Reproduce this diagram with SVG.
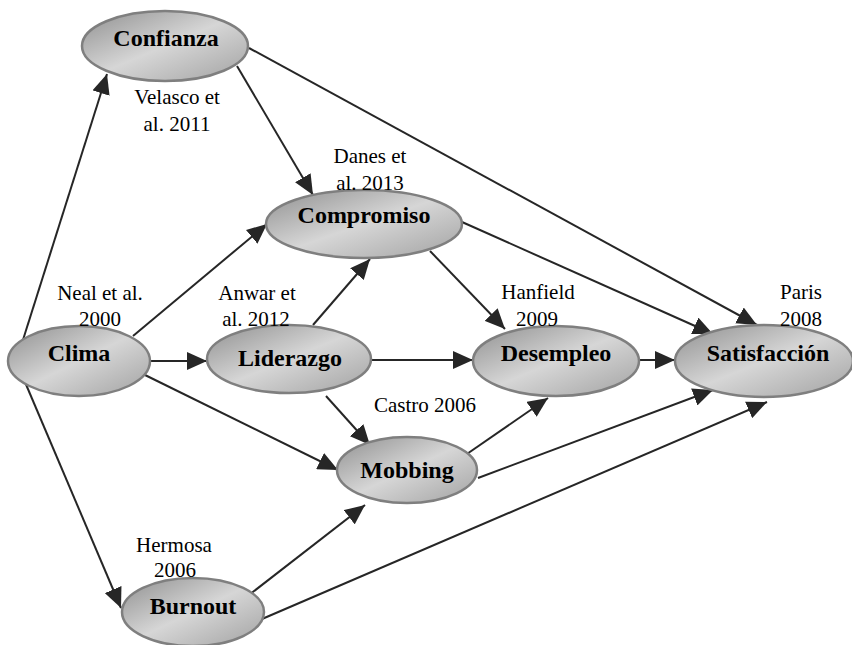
<svg xmlns="http://www.w3.org/2000/svg" width="852" height="645" viewBox="0 0 852 645">
<defs>
<linearGradient id="g" x1="0" y1="0" x2="1" y2="1">
<stop offset="0" stop-color="#8f8f8f"/>
<stop offset="0.5" stop-color="#d6d6d6"/>
<stop offset="1" stop-color="#a2a2a2"/>
</linearGradient>
<marker id="ah" viewBox="0 0 20 18" refX="20" refY="9" markerWidth="20" markerHeight="18" markerUnits="userSpaceOnUse" orient="auto">
<path d="M0,0 L20,9 L0,18 z" fill="#262626"/>
</marker>
</defs>
<rect width="852" height="645" fill="#fff"/>
<g id="connectors" stroke="#262626" stroke-width="2" marker-end="url(#ah)">
<line x1="22" y1="343" x2="107" y2="74"/>
<line x1="22" y1="375" x2="121" y2="608"/>
<line x1="133" y1="336" x2="267" y2="224"/>
<line x1="150" y1="361" x2="207" y2="361"/>
<line x1="145" y1="375" x2="338" y2="470"/>
<line x1="237" y1="66" x2="313" y2="195"/>
<line x1="249" y1="48" x2="757" y2="325"/>
<line x1="462" y1="222" x2="713" y2="334"/>
<line x1="430" y1="251" x2="505" y2="329"/>
<line x1="313" y1="325" x2="370" y2="259"/>
<line x1="372" y1="360" x2="473" y2="360"/>
<line x1="326" y1="396" x2="370" y2="445"/>
<line x1="640" y1="360" x2="675" y2="360"/>
<line x1="464" y1="456" x2="548" y2="398"/>
<line x1="478" y1="478" x2="713" y2="390"/>
<line x1="249" y1="595" x2="365" y2="505"/>
<line x1="262" y1="619" x2="767" y2="402"/>
</g>
<g fill="url(#g)" stroke="#7f7f7f" stroke-width="2.5">
<g id="confianza"><ellipse cx="165" cy="46" rx="83" ry="35"/></g>
<g id="compromiso"><ellipse cx="364" cy="224" rx="98" ry="34"/></g>
<g id="clima"><ellipse cx="79" cy="361" rx="71" ry="35"/></g>
<g id="liderazgo"><ellipse cx="289" cy="359" rx="82" ry="34"/></g>
<g id="desempleo"><ellipse cx="556" cy="361" rx="83" ry="35"/></g>
<g id="satisfaccion"><ellipse cx="764" cy="361" rx="89" ry="36"/></g>
<g id="mobbing"><ellipse cx="407" cy="470" rx="70" ry="33"/></g>
<g id="burnout"><ellipse cx="193" cy="612" rx="71" ry="34"/></g>
</g>
<g id="node-labels" font-family="'Liberation Serif', serif" font-size="24" font-weight="bold" text-anchor="middle" fill="#000">
<text x="166" y="46">Confianza</text>
<text x="364" y="223">Compromiso</text>
<text x="79" y="361">Clima</text>
<text x="290" y="366">Liderazgo</text>
<text x="556" y="361">Desempleo</text>
<text x="768" y="361">Satisfacción</text>
<text x="407" y="478">Mobbing</text>
<text x="193" y="614">Burnout</text>
</g>
<g id="labels" font-family="'Liberation Serif', serif" font-size="21" text-anchor="middle" fill="#000">
<text x="177" y="104">Velasco et</text>
<text x="177" y="131">al. 2011</text>
<text x="370" y="163">Danes et</text>
<text x="370" y="190">al. 2013</text>
<text x="100" y="300">Neal et al.</text>
<text x="100" y="326">2000</text>
<text x="257" y="300">Anwar et</text>
<text x="256" y="326">al. 2012</text>
<text x="538" y="299">Hanfield</text>
<text x="537" y="326">2009</text>
<text x="801" y="299">Paris</text>
<text x="801" y="326">2008</text>
<text x="425" y="412">Castro 2006</text>
<text x="174" y="552">Hermosa</text>
<text x="175" y="577">2006</text>
</g>
</svg>
